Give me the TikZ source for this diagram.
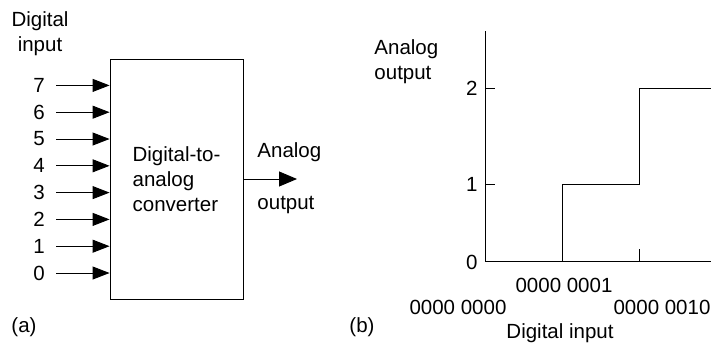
\documentclass[tikz,border=0pt]{standalone}
\usepackage{fontspec}
\setmainfont{Liberation Sans}
\usepackage{tikz}
\usetikzlibrary{arrows.meta,positioning}

\begin{document}
\begin{tikzpicture}[
x=1pt,y=-1pt,
line width=0.9pt,
font=\fontsize{20.5}{25}\selectfont,
lbl/.style={inner sep=0pt},
inarrow/.style={-{Triangle[length=17pt,width=13pt]}},
outarrow/.style={-{Triangle[length=18pt,width=15pt]}},
block/.style={
draw,
minimum width=133pt,
minimum height=240pt,
align=left,
inner sep=0pt
}
]
\useasboundingbox (0,0) rectangle (711,346);

% (a) converter block
\node[block] (dac) at (176.5,179) {Digital-to-\\analog\\converter};
\node[lbl,align=center] (din) at (40,34) {Digital\\input};

\foreach \i in {0,...,7}{
\node[lbl] (in\i) at (39,273-26.8*\i) {\i};
\coordinate (s\i) at (56,273-26.8*\i);
\draw[inarrow] (s\i) -- (s\i -| dac.west);
}

\coordinate (aout) at (297,179);
\draw[outarrow] (dac.east |- aout) -- (aout);
\node[lbl,anchor=west] (aolbl) at (257,152) {Analog};
\node[lbl,anchor=west] (aolbl2) at (257,205) {output};

\node[lbl] (capa) at (24,327) {(a)};

% (b) transfer characteristic
\coordinate (o) at (485,261);
\coordinate (ytop) at (485,31);
\coordinate (xend) at (711,261);
\draw (ytop) -- (o) -- (xend);

\draw (485,88) -- ++(10,0);
\draw (485,184) -- ++(10,0);
\draw (562,261) -- ++(0,-12);
\draw (639,261) -- ++(0,-12);

\draw (562,261) -- (562,184) -- (639,184) -- (639,88) -- (711,88);

\node[lbl,anchor=east] (y2) at (478,88) {2};
\node[lbl,anchor=east] (y1) at (478,184) {1};
\node[lbl,anchor=east] (y0) at (478,262) {0};
\node[lbl,align=left,anchor=west] (yname) at (374,62) {Analog\\output};

\node[lbl] (x1) at (564,285) {0000 0001};
\node[lbl] (x0) at (458,307) {0000 0000};
\node[lbl] (x2) at (662,307) {0000 0010};
\node[lbl] (xname) at (560,333) {Digital input};

\node[lbl] (capb) at (362,327) {(b)};
\end{tikzpicture}
\end{document}
